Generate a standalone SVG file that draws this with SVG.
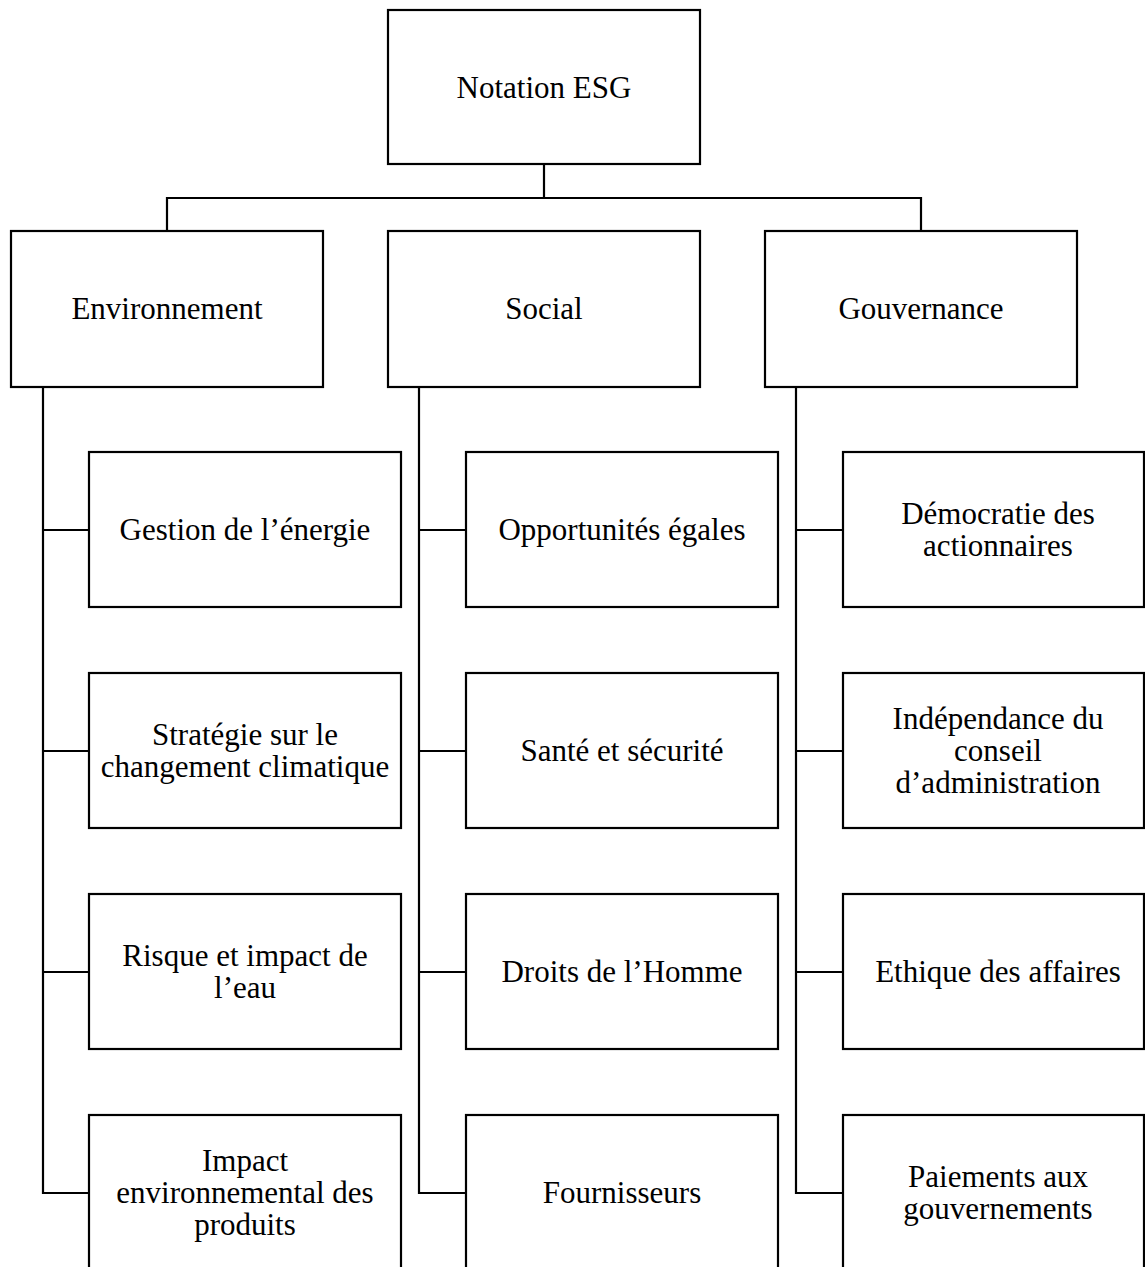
<svg xmlns="http://www.w3.org/2000/svg" width="1145" height="1267" viewBox="0 0 1145 1267">
<style>
.box{fill:#fff;stroke:#000;stroke-width:2.2}
.con{fill:none;stroke:#000;stroke-width:2.2}
text{font-family:"Liberation Serif","Times New Roman",serif;font-size:31px;fill:#000;text-anchor:middle}
</style>
<rect width="1145" height="1267" fill="#fff"/>
<g id="connectors" class="con">
<path d="M544 164V198M167 231V198H921V231"/>
<path d="M43 387V1193H89M43 530H89M43 751H89M43 972H89"/>
<path d="M419 387V1193H466M419 530H466M419 751H466M419 972H466"/>
<path d="M796 387V1193H843M796 530H843M796 751H843M796 972H843"/>
</g>
<g id="n-root"><rect class="box" x="388" y="10" width="312" height="154"/><text x="544" y="98">Notation ESG</text></g>
<g id="n-env"><rect class="box" x="11" y="231" width="312" height="156"/><text x="167" y="319">Environnement</text></g>
<g id="n-soc"><rect class="box" x="388" y="231" width="312" height="156"/><text x="544" y="319">Social</text></g>
<g id="n-gov"><rect class="box" x="765" y="231" width="312" height="156"/><text x="921" y="319">Gouvernance</text></g>

<g id="n-e1"><rect class="box" x="89" y="452" width="312" height="155"/><text x="245" y="540">Gestion de l’énergie</text></g>
<g id="n-e2"><rect class="box" x="89" y="673" width="312" height="155"/><text x="245" y="745">Stratégie sur le</text><text x="245" y="777">changement climatique</text></g>
<g id="n-e3"><rect class="box" x="89" y="894" width="312" height="155"/><text x="245" y="966">Risque et impact de</text><text x="245" y="998">l’eau</text></g>
<g id="n-e4"><rect class="box" x="89" y="1115" width="312" height="160"/><text x="245" y="1171">Impact</text><text x="245" y="1203">environnemental des</text><text x="245" y="1235">produits</text></g>

<g id="n-s1"><rect class="box" x="466" y="452" width="312" height="155"/><text x="622" y="540">Opportunités égales</text></g>
<g id="n-s2"><rect class="box" x="466" y="673" width="312" height="155"/><text x="622" y="761">Santé et sécurité</text></g>
<g id="n-s3"><rect class="box" x="466" y="894" width="312" height="155"/><text x="622" y="982">Droits de l’Homme</text></g>
<g id="n-s4"><rect class="box" x="466" y="1115" width="312" height="160"/><text x="622" y="1203">Fournisseurs</text></g>

<g id="n-g1"><rect class="box" x="843" y="452" width="301" height="155"/><text x="998" y="524">Démocratie des</text><text x="998" y="556">actionnaires</text></g>
<g id="n-g2"><rect class="box" x="843" y="673" width="301" height="155"/><text x="998" y="729">Indépendance du</text><text x="998" y="761">conseil</text><text x="998" y="793">d’administration</text></g>
<g id="n-g3"><rect class="box" x="843" y="894" width="301" height="155"/><text x="998" y="982">Ethique des affaires</text></g>
<g id="n-g4"><rect class="box" x="843" y="1115" width="301" height="160"/><text x="998" y="1187">Paiements aux</text><text x="998" y="1219">gouvernements</text></g>
</svg>
